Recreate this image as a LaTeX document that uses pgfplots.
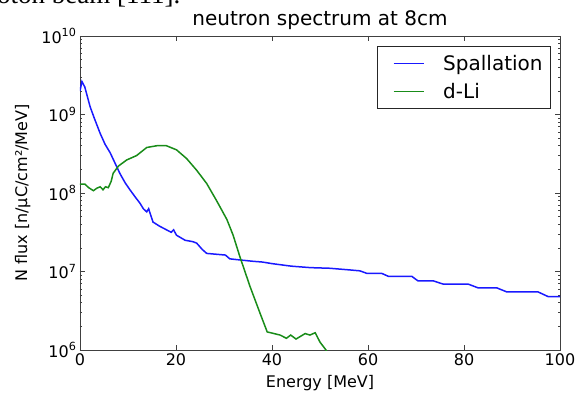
\documentclass[border=0pt]{standalone}
\usepackage{pgfplots}
\pgfplotsset{compat=1.18}
\usepackage{fontspec}
\setmainfont{DejaVu Sans}
\newfontfamily\serifdoc{Liberation Serif}
\definecolor{mplblue}{rgb}{0.1,0.1,1}
\definecolor{mplgreen}{rgb}{0.1,0.55,0.1}
\begin{document}
\begin{tikzpicture}
\begin{axis}[
  name=ax,
  scale only axis,
  width=480pt, height=314pt,
  ymode=log,
  xmin=0, xmax=100, ymin=1e6, ymax=1e10,
  xtick={0,20,40,60,80,100},
  ytick={1e6,1e7,1e8,1e9,1e10},
  yticklabels={10\textsuperscript{6},10\textsuperscript{7},10\textsuperscript{8},10\textsuperscript{9},10\textsuperscript{10}},
  /pgf/number format/assume math mode=true,
  tick label style={font=\fontsize{16}{19}\selectfont},
  label style={font=\fontsize{16}{19}\selectfont},
  tick align=inside,
  major tick length=5pt, minor tick length=2.5pt,
  axis line style={line width=0.9pt, black!75},
  every tick/.style={black!75, line width=0.6pt},
  title={neutron spectrum at 8cm},
  title style={font=\fontsize{20}{24}\selectfont, at={(0.5,1)}, anchor=base, yshift=4pt},
  xlabel={Energy [MeV]},
  ylabel={N flux [n/μC/cm²/MeV]},
  xlabel style={yshift=-3pt},
  ylabel style={yshift=4pt},
  legend style={at={(1,1)}, anchor=north east, xshift=-9pt, yshift=-10pt,
    draw=black!85, line width=0.9pt, font=\fontsize{20}{24}\selectfont,
    inner xsep=8pt, inner ysep=9pt, row sep=11pt,
    nodes={inner sep=0pt},
    /tikz/every odd column/.append style={column sep=19pt}},
  legend cell align=left,
  legend image code/.code={\path (0pt,0pt); \draw[#1, line width=1.2pt] (7pt,0pt) -- (37pt,0pt);},
  clip=true,
]
\addplot[mplblue, line width=1.5pt] coordinates {
(0.0,2.0e9) (0.4,2.63e9) (1.0,2.24e9) (2.1,1.26e9) (3.0,8.9e8) (4.2,5.75e8)
(5.2,4.2e8) (6.3,3.24e8) (7.3,2.4e8) (8.3,1.78e8) (9.4,1.35e8) (10.4,1.1e8)
(11.5,8.9e7) (12.5,7.4e7) (13.2,6.3e7) (13.9,5.75e7) (14.3,6.3e7) (15.2,4.27e7)
(16.5,3.8e7) (18.0,3.4e7) (19.0,3.16e7) (19.5,3.4e7) (20.1,2.9e7) (21.9,2.5e7)
(23.5,2.4e7) (24.3,2.3e7) (25.5,1.9e7) (26.4,1.7e7) (30.3,1.62e7) (31.2,1.45e7)
(33,1.41e7) (36,1.35e7) (38,1.32e7) (40,1.26e7) (44,1.17e7) (48,1.12e7)
(52,1.1e7) (56,1.05e7) (58.3,1.02e7) (59.7,9.5e6) (62.8,9.5e6) (64.2,8.7e6)
(69.1,8.7e6) (70.4,7.6e6) (73.6,7.6e6) (75.7,6.9e6) (80.9,6.9e6) (82.9,6.2e6)
(86.8,6.2e6) (88.9,5.5e6) (95.4,5.5e6) (97.5,4.8e6) (100,4.8e6)
};
\addlegendentry{Spallation}
\addplot[mplgreen, line width=1.5pt] coordinates {
(0,1.3e8) (1.0,1.3e8) (1.8,1.17e8) (2.8,1.07e8) (3.5,1.15e8) (4.2,1.2e8)
(4.8,1.1e8) (5.3,1.2e8) (5.9,1.17e8) (6.5,1.41e8) (6.9,1.78e8) (8.0,2.2e8)
(9.7,2.63e8) (11.8,3.0e8) (13.9,3.8e8) (16.0,4.0e8) (18.0,4.0e8) (20.1,3.55e8)
(22.2,2.75e8) (24.3,1.95e8) (26.4,1.32e8) (28.5,7.9e7) (30.6,4.6e7) (31.9,2.9e7)
(33.3,1.55e7) (35.4,6.5e6) (37.5,2.95e6) (39.0,1.7e6) (41.7,1.55e6) (43.0,1.41e6)
(43.9,1.55e6) (45.0,1.38e6) (46.9,1.62e6) (47.9,1.55e6) (49.0,1.66e6) (50.0,1.26e6)
(51.25,1.0e6) (52,7.9e5)
};
\addlegendentry{d-Li}
\end{axis}
\node[anchor=base west, inner sep=0pt, font=\serifdoc\fontsize{27}{32}\selectfont]
  at ([shift={(-83pt,32pt)}]ax.north west) {oton beam [111].};
\pgfresetboundingbox
\path[use as bounding box] ([shift={(-80pt,-43pt)}]ax.south west) rectangle ([shift={(17pt,36pt)}]ax.north east);
\end{tikzpicture}
\end{document}
